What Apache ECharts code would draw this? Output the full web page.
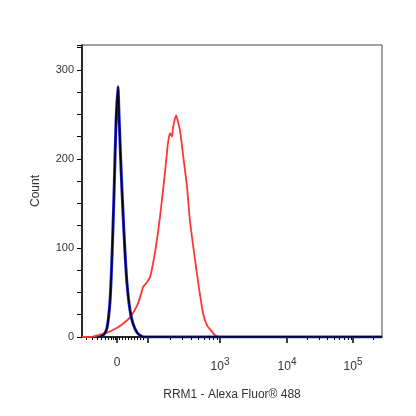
<!DOCTYPE html>
<html><head><meta charset="utf-8">
<script src="https://cdn.jsdelivr.net/npm/echarts@6/dist/echarts.min.js"></script>
<style>html,body{margin:0;padding:0;background:#fff}#c{width:416px;height:416px}</style>
</head><body><div id="c"></div>
<script>
// x positions are display-scale units (0..300 across the plot), biexponential axis
const majorTicks = [35, 66, 138, 205, 271];
const majorLabels = {35: '0', 138: '10{s|3}', 205: '10{s|4}', 271: '10{s|5}'};
const minorTicks = [4,10,15,19,23,26,29,31,33,37,40,43,46,49,52,55,58,61,
  88,100,109,116,122,127,131,135,
  225,237,245,252,257,262,266,269,
  291,303,311,318,323,328,332,335, 291+67];
const blueCurve = [[18,0],[22,3],[25,10],[28,40],[30,90],[32,160],[34,240],[35.7,281],[37,250],[39,190],[41,140],[43,95],[45,60],[48,30],[51,15],[55,5],[59,1],[62,0],[300,0]];
const redCurve = [[0,0],[8,0],[13,1],[23,4],[33,9],[40,14],[48,22],[55,35],[59,48],[61,56],[64,60],[68,67],[73,95],[78,135],[83,185],[86,218],[88,229],[89.7,225],[91,235],[93.7,249],[95,246],[98,232],[101,205],[104.7,169],[108,130],[113,87],[117,55],[121,27],[125,13],[129.7,6],[133,2],[138,0],[300,0]];
const cats = []; for (let i = 0; i <= 300; i++) cats.push(String(i));
const majSet = new Set(majorTicks), minSet = new Set(minorTicks.filter(v => v <= 300));
const chart = echarts.init(document.getElementById('c'));
chart.setOption({
  animation: false,
  grid: {left: 82, top: 45, width: 300, bottom: 79, show: true, borderColor: '#444', borderWidth: 1},
  xAxis: [{
    type: 'category', data: cats, boundaryGap: false,
    axisLine: {lineStyle: {color: '#000', width: 1.5}},
    axisTick: {length: 6, lineStyle: {color: '#000', width: 1.5}, interval: (i) => majSet.has(i)},
    axisLabel: {interval: (i) => majorLabels[i] !== undefined, margin: 20, color: '#333', fontSize: 12, fontFamily: 'Liberation Sans',
      formatter: (v) => majorLabels[+v] || '', rich: {s: {fontSize: 10, verticalAlign: 'bottom', padding: [0,0,10,0], color: '#333'}}},
    name: 'RRM1 - Alexa Fluor® 488', nameLocation: 'middle', nameGap: 52,
    nameTextStyle: {fontSize: 12, color: '#333', fontFamily: 'Liberation Sans'}
  }, {
    type: 'category', data: cats, boundaryGap: false, position: 'bottom',
    axisLine: {show: false},
    axisTick: {length: 3, lineStyle: {color: '#000', width: 1}, interval: (i) => minSet.has(i)},
    axisLabel: {show: false}
  }],
  yAxis: {
    type: 'value', min: 0, max: 328, interval: 25,
    splitLine: {show: false},
    axisLine: {show: true, lineStyle: {color: '#000', width: 1.5}},
    axisTick: {show: true, length: 5, lineStyle: {color: '#000'}},
    axisLabel: {color: '#333', fontSize: 11, fontFamily: 'Liberation Sans', margin: 8,
      formatter: (v) => v % 100 === 0 ? String(v) : ''},
    name: 'Count', nameLocation: 'middle', nameGap: 40, nameRotate: 90,
    nameTextStyle: {fontSize: 12, color: '#333', fontFamily: 'Liberation Sans'}
  },
  series: [
    {type: 'line', data: redCurve, showSymbol: false, smooth: 0.2, lineStyle: {color: '#ff3535', width: 1.8}},
    {type: 'line', data: blueCurve, showSymbol: false, smooth: 0.2, lineStyle: {color: '#2020cc', width: 3}},
    {type: 'line', data: blueCurve, showSymbol: false, smooth: 0.2, lineStyle: {color: '#000', width: 1.3}}
  ]
});
</script></body></html>
